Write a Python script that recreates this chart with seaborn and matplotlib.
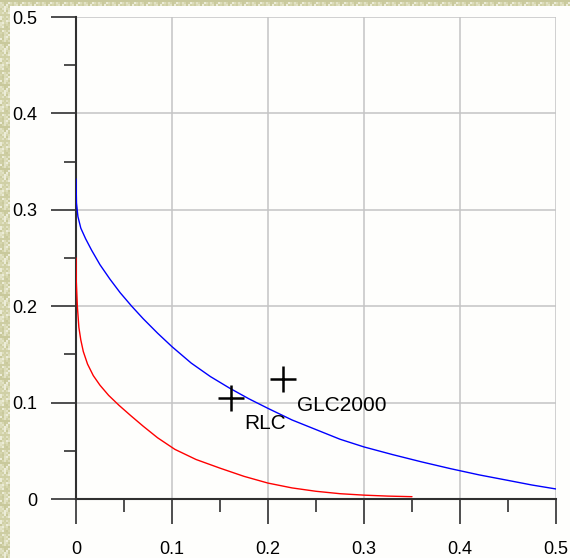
import numpy as np
import pandas as pd
import matplotlib
matplotlib.use("Agg")
import matplotlib.pyplot as plt
import seaborn as sns

# Upper (blue) trade-off curve
blue_x = [0.0, 0.0005, 0.002, 0.005, 0.01, 0.0163, 0.025, 0.0354, 0.046, 0.058,
          0.07, 0.085, 0.1, 0.12, 0.14, 0.16, 0.18, 0.2, 0.225, 0.25, 0.275,
          0.3, 0.33, 0.36, 0.39, 0.42, 0.45, 0.475, 0.5]
blue_y = [0.332, 0.307, 0.293, 0.281, 0.270, 0.258, 0.243, 0.228, 0.214, 0.200,
          0.187, 0.172, 0.158, 0.141, 0.127, 0.115, 0.104, 0.094, 0.082, 0.072, 0.062,
          0.054, 0.046, 0.0385, 0.0315, 0.0250, 0.0193, 0.0145, 0.0104]

# Lower (red) trade-off curve
red_x = [0.0, 0.0003, 0.0014, 0.003, 0.005, 0.0076, 0.012, 0.018, 0.025, 0.034,
         0.045, 0.057, 0.07, 0.085, 0.103, 0.125, 0.15, 0.175, 0.2, 0.225, 0.25,
         0.275, 0.3, 0.325, 0.35]
red_y = [0.250, 0.226, 0.200, 0.178, 0.165, 0.153, 0.140, 0.128, 0.118, 0.1075,
         0.097, 0.0865, 0.0755, 0.0635, 0.0515, 0.041, 0.032, 0.0235, 0.0165, 0.0115, 0.0080,
         0.0055, 0.0040, 0.0030, 0.0024]

# Land-cover products
prod_names = ["RLC", "GLC2000"]
prod_x = [0.1615, 0.216]
prod_y = [0.1045, 0.1245]

x_ticks = [0, 0.1, 0.2, 0.3, 0.4, 0.5]
y_ticks = [0, 0.1, 0.2, 0.3, 0.4, 0.5]
tick_labels = ["0", "0.1", "0.2", "0.3", "0.4", "0.5"]

sns.set_theme(style="white")
plt.rcParams["font.family"] = ["Liberation Sans", "DejaVu Sans"]

fig = plt.figure(figsize=(5.70, 5.58), dpi=100)
fig.patch.set_facecolor("#fefefc")

# parchment-style page border on the left and top
paper = matplotlib.colors.ListedColormap(
    ["#c9c99c", "#d6d6ae", "#e2e2c6", "#d0d0a6", "#dcdcba", "#ececd8", "#cdcda2"])


def paper_tile(h, w):
    i, j = np.indices((h, w))
    return ((i * 37 + j * 91 + i * j * 13 + (i // 3) * 5) % 7) / 6.0


bg = fig.add_axes([0, 0, 1, 1], zorder=-10)
bg.set_axis_off()
bg.imshow(paper_tile(558 // 2, 5), extent=[0, 10, 558, 0], cmap=paper,
          aspect="auto", interpolation="nearest")
bg.imshow(paper_tile(3, 570 // 2), extent=[0, 570, 6, 0], cmap=paper,
          aspect="auto", interpolation="nearest")
bg.set_xlim(0, 570)
bg.set_ylim(558, 0)

ax = fig.add_axes([76 / 570, 59 / 558, 480 / 570, 482 / 558])
ax.set_facecolor("none")

blue_df = pd.DataFrame({"x": blue_x, "y": blue_y})
red_df = pd.DataFrame({"x": red_x, "y": red_y})
prod_df = pd.DataFrame({"name": prod_names, "x": prod_x, "y": prod_y})

sns.lineplot(data=blue_df, x="x", y="y", sort=False, estimator=None,
             color="#0000ff", linewidth=1.0, ax=ax, zorder=3)
sns.lineplot(data=red_df, x="x", y="y", sort=False, estimator=None,
             color="#ff0000", linewidth=1.0, ax=ax, zorder=3)
sns.scatterplot(data=prod_df, x="x", y="y", marker="+", s=330,
                color="black", linewidth=1.8, ax=ax, zorder=4, clip_on=False)

ax.text(0.175, 0.0726, "RLC", fontsize=15, color="black", ha="left", va="baseline")
ax.text(0.2298, 0.0916, "GLC2000", fontsize=15, color="black", ha="left", va="baseline")

ax.set_xlim(0, 0.5)
ax.set_ylim(0, 0.5)
ax.set_xticks(x_ticks)
ax.set_yticks(y_ticks)
ax.set_xticklabels(tick_labels)
ax.set_yticklabels(tick_labels)
ax.set_xticks([0.05, 0.15, 0.25, 0.35, 0.45], minor=True)
ax.set_yticks([0.05, 0.15, 0.25, 0.35, 0.45], minor=True)
ax.set_xlabel("")
ax.set_ylabel("")

ax.grid(True, which="major", color="#c4c4c4", linewidth=1.1)
ax.set_axisbelow(True)

for side in ["top", "right"]:
    ax.spines[side].set_visible(False)
for side in ["left", "bottom"]:
    ax.spines[side].set_visible(True)
    ax.spines[side].set_color("#303030")
    ax.spines[side].set_linewidth(1.5)

ax.tick_params(which="major", direction="out", length=18, width=1.2,
               color="#303030", labelsize=13, labelcolor="black", pad=10,
               bottom=True, left=True)
ax.tick_params(which="minor", direction="out", length=9, width=1.2,
               color="#303030", bottom=True, left=True)
ax.tick_params(axis="x", which="major", pad=12)

fig.savefig("out.png", dpi=100, facecolor=fig.get_facecolor())
